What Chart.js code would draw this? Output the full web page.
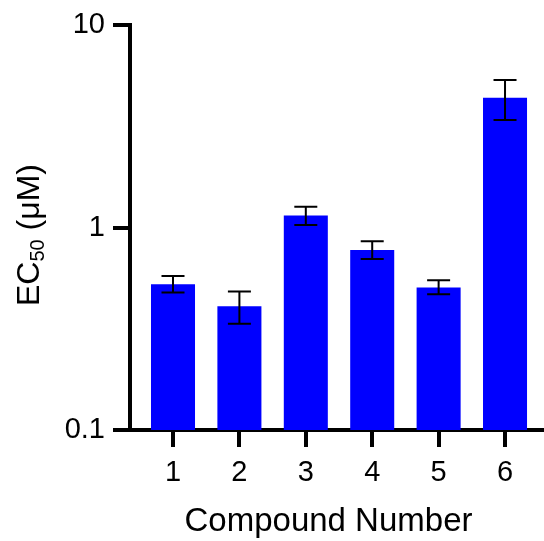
<!DOCTYPE html>
<html>
<head>
<meta charset="utf-8">
<script src="https://cdn.jsdelivr.net/npm/chart.js@4/dist/chart.umd.min.js"></script>
<style>
  html, body { margin: 0; padding: 0; background: #fff; }
  #wrap { width: 544px; height: 541px; }
</style>
</head>
<body>
<div id="wrap"><canvas id="ec50Chart" width="544" height="541"></canvas></div>
<script>
// Data
const compounds = [1, 2, 3, 4, 5, 6];
const ec50 = [0.525, 0.409, 1.15, 0.775, 0.506, 4.39];
const errLow = [0.478, 0.335, 1.03, 0.70, 0.469, 3.41];
const errHigh = [0.577, 0.484, 1.27, 0.856, 0.55, 5.37];
const yTicks = [0.1, 1, 10];
const yTickLabels = ['0.1', '1', '10'];
const xTitle = 'Compound Number';

const FONT = "'Liberation Sans', Arial, sans-serif";

// Error bars drawn on top of the bars
const errorBars = {
    id: 'errorBars',
    afterDatasetsDraw(chart) {
        const ctx = chart.ctx;
        const y = chart.scales.y;
        const bars = chart.getDatasetMeta(0).data;
        ctx.save();
        ctx.strokeStyle = '#000';
        ctx.lineWidth = 2;
        bars.forEach(function(bar, i) {
            const yTop = y.getPixelForValue(errHigh[i]);
            const yBot = y.getPixelForValue(errLow[i]);
            const cap = 11.5;
            ctx.beginPath();
            ctx.moveTo(bar.x, yTop);
            ctx.lineTo(bar.x, yBot);
            ctx.moveTo(bar.x - cap, yTop);
            ctx.lineTo(bar.x + cap, yTop);
            ctx.moveTo(bar.x - cap, yBot);
            ctx.lineTo(bar.x + cap, yBot);
            ctx.stroke();
        });
        ctx.restore();
    }
};

// Axis titles (y title has a subscript)
const axisTitles = {
    id: 'axisTitles',
    afterDraw(chart) {
        const ctx = chart.ctx;
        const area = chart.chartArea;
        ctx.save();
        ctx.fillStyle = '#000';
        ctx.textBaseline = 'alphabetic';

        // x title, centred under the axis line (which starts 17px left of the plot)
        ctx.textAlign = 'center';
        ctx.font = '33px ' + FONT;
        ctx.fillText(xTitle, (area.left - 17 + area.right) / 2, 531);

        // y title, rotated
        ctx.translate(39, 306);
        ctx.rotate(-Math.PI / 2);
        ctx.textAlign = 'left';
        let x = 0;
        ctx.font = '32px ' + FONT;
        ctx.fillText('EC', x, 0);
        x += ctx.measureText('EC').width;
        ctx.font = '20px ' + FONT;
        ctx.fillText('50', x, 5);
        x += ctx.measureText('50').width;
        ctx.font = '32px ' + FONT;
        ctx.fillText(' (\u03BCM)', x, 0);
        ctx.restore();
    }
};

new Chart(document.getElementById('ec50Chart'), {
    type: 'bar',
    data: {
        datasets: [{
            data: compounds.map(function(c, i) { return {x: c, y: ec50[i]}; }),
            backgroundColor: '#0000ff',
            borderWidth: 0,
            categoryPercentage: 1,
            barPercentage: 0.663
        }]
    },
    options: {
        responsive: false,
        animation: false,
        layout: { padding: { top: 25, left: 0, right: 0, bottom: 0 } },
        plugins: {
            legend: { display: false },
            tooltip: { enabled: false }
        },
        scales: {
            x: {
                type: 'linear',
                min: 0.3524,
                max: 6.587,
                offset: false,
                afterBuildTicks: function(scale) {
                    scale.ticks = compounds.map(function(c) { return {value: c}; });
                },
                afterFit: function(scale) { scale.height = 111; },
                ticks: {
                    color: '#000',
                    font: { family: FONT, size: 29 },
                    padding: 9,
                    maxRotation: 0,
                    autoSkip: false,
                    callback: function(v) { return String(v); }
                },
                grid: {
                    offset: false,
                    drawOnChartArea: false,
                    drawTicks: true,
                    tickLength: 17,
                    color: '#000',
                    lineWidth: 4
                },
                border: { display: true, color: '#000', width: 4 }
            },
            y: {
                type: 'logarithmic',
                min: 0.1,
                max: 10,
                afterBuildTicks: function(scale) {
                    scale.ticks = yTicks.map(function(v) { return {value: v, major: true}; });
                },
                afterFit: function(scale) { scale.width = 130; },
                ticks: {
                    color: '#000',
                    font: { family: FONT, size: 29 },
                    padding: 8,
                    callback: function(v, i) { return yTickLabels[i]; }
                },
                grid: {
                    drawOnChartArea: false,
                    drawTicks: true,
                    tickLength: 17,
                    color: '#000',
                    lineWidth: 4
                },
                border: { display: true, color: '#000', width: 4 }
            }
        }
    },
    plugins: [errorBars, axisTitles]
});
</script>
</body>
</html>
